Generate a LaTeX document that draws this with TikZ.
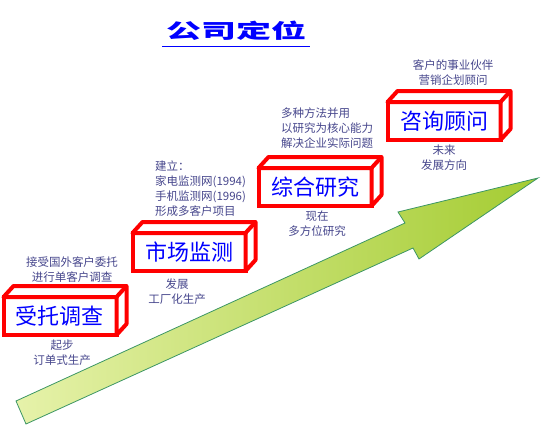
\documentclass[tikz,border=0pt]{standalone}
\usepackage{fontspec}
\usepackage{graphicx}
\newfontfamily\cjk{Noto Sans CJK SC}
\usetikzlibrary{positioning, calc}
\definecolor{notegray}{RGB}{70,70,140}
\definecolor{arrowpale}{RGB}{230,242,170}
\definecolor{arrowdeep}{RGB}{164,204,50}
\definecolor{arrowline}{RGB}{60,150,100}
\tikzset{
  facebox/.style={draw=red, fill=white, line width=4pt, minimum width=113pt, minimum height=38pt,
    inner sep=0pt, outer sep=0pt, text=blue, font=\cjk\fontsize{22}{24}\selectfont},
  sideface/.style={draw=red, fill=white, line width=4pt, line join=round},
  note/.style={text=notegray, font=\cjk\fontsize{11.5}{15}\selectfont, align=center, inner sep=0pt},
}
% top and right face of a box
\newcommand{\boxdepth}[1]{%
  \draw[sideface] (#1.north west) -- ++(10,-11) -- ($(#1.north east)+(10,-11)$)
    -- ($(#1.south east)+(10,-11)$) -- (#1.south east) -- (#1.north east) -- cycle;
  \draw[sideface] (#1.north east) -- ++(10,-11);
}
\begin{document}
\begin{tikzpicture}[x=1pt,y=-1pt]
\useasboundingbox (0,0) rectangle (554,442);
\node[text=blue, font=\cjk\bfseries\fontsize{20}{20}\selectfont] (title) at (236,31) {\scalebox{1.75}[1]{公司定位}};
\draw[blue, line width=1.5pt] ([yshift=-2pt]title.south west) -- ([yshift=-2pt]title.south east);
% rising arrow
\draw[arrowline, line width=0.8pt, left color=arrowpale, right color=arrowdeep]
  (16,401) -- (405,223) -- (398,212) -- (538,178) -- (419,259) -- (413,248) -- (26,424) -- cycle;
\node[facebox] (box1) at (60,316) {受托调查};
\node[facebox] (box2) at (189,252) {市场监测};
\node[facebox] (box3) at (315,187) {综合研究};
\node[facebox] (box4) at (444,121) {咨询顾问};
\boxdepth{box1}
\boxdepth{box2}
\boxdepth{box3}
\boxdepth{box4}
\node[note] (n1) at (72,270) {接受国外客户委托\\进行单客户调查};
\node[note, below=5pt of box1, xshift=2pt] (m1) {起步\\订单式生产};
\node[note, align=left, anchor=west] (n2) at (155,189) {建立：\\家电监测网(1994)\\手机监测网(1996)\\形成多客户项目};
\node[note, below=8pt of box2, xshift=-12pt] (m2) {发展\\工厂化生产};
\node[note, align=left, anchor=west] (n3) at (281,128) {多种方法并用\\以研究为核心能力\\解决企业实际问题};
\node[note, below=5pt of box3, xshift=2pt] (m3) {现在\\多方位研究};
\node[note] (n4) at (453,73) {客户的事业伙伴\\营销企划顾问};
\node[note, below=5pt of box4] (m4) {未来\\发展方向};
\end{tikzpicture}
\end{document}
